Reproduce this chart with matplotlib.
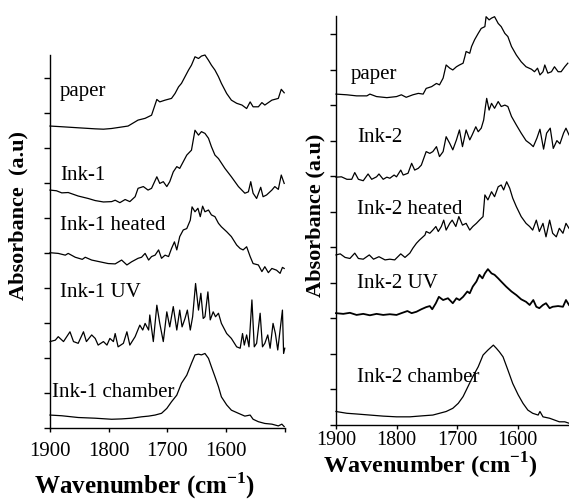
import matplotlib
matplotlib.use("Agg")
from matplotlib import pyplot as plt

plt.rcParams['font.family'] = ['Liberation Serif', 'DejaVu Serif']
plt.rcParams['mathtext.fontset'] = 'custom'
plt.rcParams['mathtext.rm'] = 'Liberation Serif'
plt.rcParams['mathtext.bf'] = 'Liberation Serif:bold'

# ---- left panel (Ink-1), absorbance in a.u. incl. stacking offset ----
paper1_wn = [1900, 1880, 1852, 1823, 1809, 1795, 1767, 1750, 1738, 1727, 1718, 1713, 1704, 1693, 1687,
             1681, 1676, 1670, 1664, 1659, 1653, 1647, 1642, 1636, 1630, 1625, 1619, 1613, 1608, 1599,
             1591, 1582, 1573, 1565, 1559, 1554, 1545, 1539, 1534, 1522, 1511, 1506, 1501]
paper1_abs = [8.63, 8.61, 8.58, 8.55, 8.54, 8.56, 8.63, 8.80, 8.85, 8.94, 9.39, 9.32, 9.37, 9.42, 9.56,
              9.75, 9.85, 10.04, 10.23, 10.37, 10.61, 10.56, 10.63, 10.66, 10.51, 10.37, 10.23, 10.04, 9.85, 9.56,
              9.37, 9.28, 9.23, 9.13, 9.32, 9.18, 9.18, 9.30, 9.23, 9.37, 9.42, 9.68, 9.58]

ink1_wn = [1900, 1889, 1880, 1869, 1852, 1835, 1823, 1809, 1795, 1789, 1781, 1772, 1764, 1755, 1750,
           1741, 1733, 1727, 1718, 1713, 1707, 1701, 1696, 1690, 1684, 1679, 1673, 1667, 1659, 1653,
           1647, 1642, 1636, 1630, 1625, 1619, 1613, 1602, 1591, 1579, 1568, 1562, 1558, 1554, 1548,
           1541, 1537, 1531, 1522, 1517, 1511, 1506, 1501]
ink1_abs = [6.80, 6.78, 6.72, 6.73, 6.63, 6.56, 6.50, 6.46, 6.47, 6.51, 6.44, 6.53, 6.47, 6.61, 6.85,
            6.90, 6.80, 6.85, 7.18, 6.99, 7.04, 6.90, 7.04, 7.32, 7.47, 7.42, 7.61, 7.80, 7.94, 8.51,
            8.37, 8.47, 8.42, 8.28, 8.04, 7.80, 7.70, 7.42, 7.18, 6.90, 6.71, 6.75, 7.04, 6.71, 6.56,
            6.88, 6.61, 6.66, 6.80, 6.90, 6.82, 7.23, 6.99]

heat1_wn = [1900, 1886, 1874, 1869, 1857, 1845, 1840, 1829, 1815, 1801, 1789, 1778, 1769, 1761, 1750,
            1744, 1738, 1732, 1727, 1721, 1715, 1710, 1704, 1698, 1693, 1688, 1684, 1679, 1673, 1667,
            1661, 1658, 1653, 1648, 1644, 1640, 1636, 1630, 1625, 1619, 1613, 1608, 1599, 1591, 1582,
            1576, 1571, 1565, 1559, 1554, 1545, 1539, 1534, 1528, 1522, 1514, 1508, 1504, 1501]
heat1_abs = [5.01, 4.99, 4.94, 4.99, 4.88, 4.82, 4.88, 4.80, 4.75, 4.70, 4.69, 4.80, 4.66, 4.75, 4.85,
             4.88, 4.99, 4.80, 4.90, 4.94, 5.09, 4.85, 4.94, 4.90, 5.13, 5.32, 5.09, 5.47, 5.66, 5.70,
             5.94, 6.32, 6.18, 6.28, 6.04, 6.34, 6.18, 6.23, 6.09, 6.04, 5.85, 5.75, 5.61, 5.47, 5.23,
             5.13, 5.09, 5.18, 4.90, 4.70, 4.66, 4.47, 4.61, 4.44, 4.56, 4.51, 4.42, 4.59, 4.56]

uv1_wn = [1900, 1891, 1886, 1877, 1866, 1860, 1852, 1843, 1838, 1829, 1823, 1818, 1809, 1803, 1798,
          1792, 1789, 1784, 1775, 1769, 1764, 1755, 1747, 1742, 1738, 1732, 1730, 1724, 1718, 1713,
          1707, 1701, 1696, 1690, 1684, 1679, 1675, 1670, 1666, 1661, 1657, 1652, 1647, 1643, 1639,
          1636, 1631, 1627, 1622, 1618, 1613, 1608, 1599, 1591, 1582, 1576, 1572, 1569, 1565, 1561,
          1556, 1552, 1548, 1542, 1538, 1534, 1529, 1525, 1520, 1516, 1512, 1504, 1502, 1500]
uv1_abs = [2.47, 2.51, 2.61, 2.47, 2.75, 2.47, 2.42, 2.75, 2.47, 2.66, 2.56, 2.37, 2.47, 2.37, 2.56,
           2.47, 2.70, 2.32, 2.42, 2.75, 2.37, 2.61, 2.94, 2.80, 2.99, 2.80, 3.23, 2.47, 3.51, 2.99,
           2.47, 3.32, 2.89, 3.47, 2.80, 3.37, 2.89, 3.13, 3.37, 2.80, 3.18, 4.13, 3.37, 3.85, 3.13,
           3.18, 3.89, 3.09, 3.32, 3.18, 3.28, 2.99, 2.70, 2.56, 2.32, 2.28, 2.70, 2.37, 2.66, 2.32,
           3.66, 2.32, 2.42, 3.28, 2.32, 2.42, 2.66, 2.28, 2.99, 2.70, 2.23, 3.37, 2.13, 2.28]

cham1_wn = [1900, 1880, 1852, 1823, 1795, 1778, 1761, 1744, 1732, 1721, 1710, 1701, 1693, 1684, 1676,
            1667, 1659, 1653, 1647, 1642, 1636, 1630, 1625, 1619, 1613, 1608, 1599, 1591, 1579, 1568,
            1559, 1554, 1545, 1534, 1522, 1511, 1505, 1501]
cham1_abs = [0.37, 0.35, 0.30, 0.28, 0.25, 0.26, 0.28, 0.32, 0.34, 0.37, 0.42, 0.56, 0.75, 0.94, 1.28,
             1.51, 1.85, 2.09, 2.11, 2.09, 2.13, 1.99, 1.75, 1.47, 1.18, 0.89, 0.66, 0.51, 0.42, 0.34,
             0.37, 0.25, 0.18, 0.13, 0.11, 0.06, 0.11, 0.04]

# ---- right panel (Ink-2) ----
paper2_wn = [1900, 1882, 1866, 1849, 1844, 1833, 1816, 1800, 1792, 1784, 1773, 1764, 1756, 1751, 1742,
             1734, 1729, 1723, 1718, 1712, 1707, 1701, 1696, 1690, 1687, 1685, 1679, 1676, 1671, 1665,
             1660, 1654, 1652, 1647, 1643, 1638, 1632, 1627, 1621, 1616, 1610, 1602, 1594, 1586, 1577,
             1572, 1567, 1563, 1558, 1555, 1550, 1544, 1539, 1533, 1528, 1522, 1517]
paper2_abs = [9.32, 9.30, 9.27, 9.27, 9.32, 9.25, 9.22, 9.25, 9.30, 9.23, 9.30, 9.34, 9.32, 9.48, 9.53,
              9.62, 9.58, 9.77, 10.14, 10.05, 10.00, 10.09, 10.14, 10.19, 10.38, 10.52, 10.47, 10.66, 10.85, 11.03,
              11.17, 11.22, 11.50, 11.41, 11.46, 11.50, 11.31, 11.22, 11.03, 10.94, 10.66, 10.42, 10.23, 10.09, 10.02,
              9.95, 10.05, 9.86, 9.95, 10.14, 9.91, 9.95, 10.09, 9.95, 9.95, 10.09, 10.19]

ink2_wn = [1900, 1891, 1882, 1874, 1869, 1863, 1855, 1847, 1841, 1833, 1829, 1822, 1816, 1811, 1804,
           1800, 1793, 1789, 1781, 1775, 1770, 1764, 1759, 1751, 1745, 1740, 1734, 1729, 1723, 1718,
           1712, 1707, 1701, 1696, 1691, 1685, 1679, 1675, 1669, 1665, 1660, 1656, 1653, 1651, 1647,
           1643, 1638, 1632, 1627, 1621, 1616, 1610, 1602, 1594, 1586, 1579, 1574, 1568, 1563, 1557,
           1552, 1546, 1541, 1535, 1530, 1524, 1520, 1515]
ink2_abs = [6.98, 6.99, 6.92, 6.92, 7.11, 6.92, 6.88, 7.07, 6.92, 6.99, 7.07, 6.92, 6.98, 6.95, 7.04,
            6.99, 7.18, 7.04, 7.09, 7.37, 7.18, 7.23, 7.32, 7.70, 7.65, 7.70, 7.84, 7.56, 7.70, 8.12,
            7.93, 7.75, 8.03, 8.31, 7.84, 8.31, 8.03, 8.17, 8.40, 8.26, 8.36, 8.59, 8.97, 9.20, 8.87,
            9.06, 8.92, 9.11, 8.97, 9.01, 8.97, 8.69, 8.45, 8.22, 8.01, 7.92, 7.84, 8.08, 8.33, 7.77,
            8.22, 8.36, 7.79, 8.01, 7.92, 8.22, 8.36, 8.17]

heat2_wn = [1900, 1893, 1885, 1877, 1869, 1863, 1855, 1845, 1838, 1829, 1819, 1811, 1803, 1793, 1786,
            1778, 1773, 1767, 1762, 1753, 1751, 1745, 1740, 1735, 1731, 1726, 1722, 1718, 1712, 1708,
            1702, 1697, 1691, 1685, 1679, 1674, 1668, 1663, 1657, 1654, 1649, 1643, 1638, 1632, 1627,
            1623, 1618, 1613, 1608, 1602, 1594, 1586, 1580, 1575, 1569, 1564, 1558, 1553, 1547, 1542,
            1536, 1531, 1525, 1520, 1515]
heat2_abs = [4.79, 4.82, 4.72, 4.69, 4.84, 4.69, 4.67, 4.79, 4.67, 4.74, 4.65, 4.67, 4.65, 4.82, 4.72,
             4.84, 4.98, 5.12, 5.21, 5.35, 5.45, 5.40, 5.49, 5.59, 5.45, 5.59, 5.77, 5.49, 5.68, 5.77,
             5.59, 5.87, 5.63, 5.68, 5.49, 5.59, 5.68, 5.77, 5.87, 6.48, 6.34, 6.57, 6.43, 6.71, 6.76,
             6.62, 6.85, 6.67, 6.39, 6.15, 5.87, 5.68, 5.59, 5.49, 5.77, 5.45, 5.68, 5.30, 5.77, 5.40,
             5.30, 5.54, 5.40, 5.68, 5.54]

uv2_wn = [1900, 1888, 1877, 1866, 1855, 1844, 1833, 1822, 1811, 1800, 1792, 1782, 1775, 1767, 1759,
          1751, 1745, 1741, 1735, 1730, 1723, 1715, 1707, 1701, 1696, 1690, 1683, 1679, 1674, 1668,
          1663, 1658, 1654, 1649, 1643, 1638, 1632, 1627, 1619, 1610, 1602, 1594, 1586, 1580, 1574,
          1569, 1564, 1558, 1553, 1547, 1542, 1533, 1525, 1520, 1515]
uv2_abs = [3.15, 3.13, 3.16, 3.10, 3.13, 3.09, 3.13, 3.10, 3.12, 3.10, 3.15, 3.21, 3.15, 3.19, 3.26,
           3.32, 3.35, 3.26, 3.43, 3.61, 3.52, 3.57, 3.43, 3.57, 3.52, 3.61, 3.76, 3.71, 3.90, 4.04,
           4.23, 4.13, 4.27, 4.39, 4.27, 4.23, 4.13, 4.04, 3.90, 3.76, 3.66, 3.54, 3.47, 3.38, 3.52,
           3.33, 3.29, 3.38, 3.43, 3.29, 3.33, 3.35, 3.33, 3.52, 3.38]

cham2_wn = [1900, 1882, 1866, 1844, 1822, 1800, 1778, 1756, 1740, 1729, 1718, 1707, 1698, 1690, 1682,
            1674, 1665, 1657, 1649, 1640, 1635, 1630, 1624, 1616, 1608, 1599, 1591, 1583, 1575, 1566,
            1563, 1558, 1547, 1539, 1531, 1522, 1515]
cham2_abs = [0.38, 0.33, 0.31, 0.28, 0.25, 0.23, 0.23, 0.26, 0.28, 0.33, 0.38, 0.47, 0.61, 0.80, 1.08,
             1.36, 1.64, 1.97, 2.11, 2.25, 2.16, 2.06, 1.92, 1.55, 1.17, 0.85, 0.61, 0.42, 0.33, 0.28,
             0.38, 0.23, 0.19, 0.14, 0.09, 0.09, 0.05]

left_names = ["paper", "Ink-1", "Ink-1 heated", "Ink-1 UV", "Ink-1 chamber"]
right_names = ["paper", "Ink-2", "Ink-2 heated", "Ink-2 UV", "Ink-2 chamber"]
tick_wn = [1900, 1800, 1700, 1600]

fig = plt.figure(figsize=(5.69, 5.01), dpi=100)
ax1 = fig.add_axes([0.0879, 0.1457, 0.4126, 0.7445])
ax2 = fig.add_axes([0.5905, 0.1517, 0.4095, 0.8164])

for wn, ab in [(paper1_wn, paper1_abs), (ink1_wn, ink1_abs), (heat1_wn, heat1_abs),
               (uv1_wn, uv1_abs), (cham1_wn, cham1_abs)]:
    ax1.plot(wn, ab, color="black", lw=0.9, clip_on=False)
for wn, ab in [(paper2_wn, paper2_abs), (ink2_wn, ink2_abs), (heat2_wn, heat2_abs),
               (cham2_wn, cham2_abs)]:
    ax2.plot(wn, ab, color="black", lw=0.9, clip_on=False)
ax2.plot(uv2_wn, uv2_abs, color="black", lw=1.3, clip_on=False)

ax1.set_xlim(1900, 1500)
ax1.set_ylim(0, 10.66)
ax2.set_xlim(1900, 1515)
ax2.set_ylim(0, 11.52)

for ax, ntick in [(ax1, 11), (ax2, 12)]:
    for s in ["top", "right"]:
        ax.spines[s].set_visible(False)
    ax.spines["left"].set_linewidth(1.0)
    ax.spines["bottom"].set_linewidth(1.0)
    ax.set_yticks(range(ntick))
    ax.set_yticklabels([])
    ax.tick_params(axis="y", direction="out", length=4, width=1)

ax1.set_xticks(tick_wn + [1500])
ax1.set_xticklabels([str(t) for t in tick_wn] + [""])
ax1.tick_params(axis="x", direction="out", length=3, width=1, labelsize=15, pad=7)
ax2.set_xticks(tick_wn)
ax2.set_xticklabels([str(t) for t in tick_wn])
ax2.tick_params(axis="x", direction="out", length=3, width=1, labelsize=14.5, pad=1.5)

# curve names (axes fraction)
left_pos = [(0.043, 0.901), (0.043, 0.678), (0.043, 0.542), (0.043, 0.362), (0.009, 0.094)]
right_pos = [(0.064, 0.856), (0.09, 0.704), (0.09, 0.526), (0.09, 0.347), (0.09, 0.115)]
for name, (x, y) in zip(left_names, left_pos):
    ax1.text(x, y, name, transform=ax1.transAxes, fontsize=15, ha="left", va="center")
for name, (x, y) in zip(right_names, right_pos):
    ax2.text(x, y, name, transform=ax2.transAxes, fontsize=15, ha="left", va="center")

fig.text(0.255, 1 - 494 / 501, r"Wavenumber (cm$^{\mathbf{-1}}$)", fontsize=18,
         fontweight="bold", ha="center", va="baseline")
fig.text(0.757, 1 - 474 / 501, r"Wavenumber (cm$^{\mathbf{-1}}$)", fontsize=17.5,
         fontweight="bold", ha="center", va="baseline")
fig.text(18 / 569, 1 - 215 / 501, "Absorbance  (a.u)", fontsize=16, fontweight="bold",
         rotation=90, ha="center", va="center")
fig.text(315 / 569, 1 - 215 / 501, "Absorbance (a.u)", fontsize=16, fontweight="bold",
         rotation=90, ha="center", va="center")

fig.savefig("out.png", dpi=100)
